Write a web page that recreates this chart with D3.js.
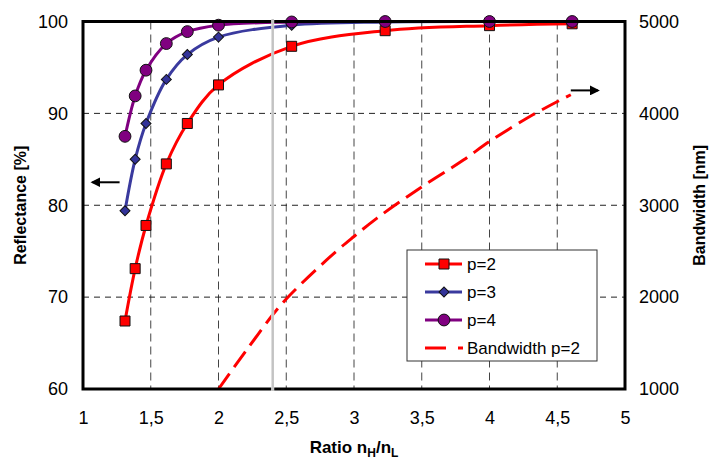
<!DOCTYPE html>
<html>
<head>
<meta charset="utf-8">
<script src="https://cdn.jsdelivr.net/npm/d3@7"></script>
<style>
  body { margin: 0; background: #fff; }
  text { font-family: "Liberation Sans", Arial, sans-serif; fill: #000; }
</style>
</head>
<body>
<script>
// ratio nH/nL where the reflectance was computed
const ratio = [1.31, 1.385, 1.465, 1.615, 1.77, 2.0, 2.54, 3.23, 4.0, 4.61];
const reflP2 = [67.4, 73.1, 77.8, 84.5, 88.9, 93.1, 97.3, 99.0, 99.55, 99.75];
const reflP3 = [79.4, 85.0, 88.9, 93.7, 96.4, 98.3, 99.6, 99.95, 100, 100];
const reflP4 = [87.5, 91.9, 94.7, 97.6, 98.9, 99.6, 99.95, 100, 100, 100];
// bandwidth for p=2 (right axis)
const bwRatio = [2.0, 2.2, 2.44, 2.6, 2.87, 3.0, 3.17, 3.48, 3.81, 4.0, 4.32, 4.6];
const bwP2 = [1000, 1410, 1880, 2130, 2500, 2660, 2860, 3180, 3495, 3694, 3985, 4203];
const xTicks = [1, 1.5, 2, 2.5, 3, 3.5, 4, 4.5, 5];
const yLeftTicks = [60, 70, 80, 90, 100];
const yRightTicks = [1000, 2000, 3000, 4000, 5000];
const marked = 2.4;

const W = 724, H = 460,
      pL = 83, pR = 625, pT = 21.5, pB = 389;

const x = d3.scaleLinear().domain([1, 5]).range([pL, pR]),
      yL = d3.scaleLinear().domain([60, 100]).range([pB, pT]),
      yR = d3.scaleLinear().domain([1000, 5000]).range([pB, pT]);

const comma = d3.formatLocale({decimal: ",", thousands: "", grouping: [3], currency: ["", ""]});

const svg = d3.select("body").append("svg")
    .attr("width", W).attr("height", H);

const defs = svg.append("defs");
defs.append("clipPath").attr("id", "plot")
  .append("rect").attr("x", pL).attr("y", pT)
  .attr("width", pR - pL).attr("height", pB - pT);

// grid
svg.append("g")
    .selectAll("line").data(xTicks.slice(1, -1)).join("line")
    .attr("x1", d => x(d)).attr("x2", d => x(d))
    .attr("y1", pT).attr("y2", pB)
    .attr("stroke", "#444").attr("stroke-width", 1).attr("stroke-dasharray", "8,5");
svg.append("g")
    .selectAll("line").data(yLeftTicks.slice(1, -1)).join("line")
    .attr("x1", pL).attr("x2", pR)
    .attr("y1", d => yL(d)).attr("y2", d => yL(d))
    .attr("stroke", "#222").attr("stroke-width", 1).attr("stroke-dasharray", "6,5");

// axes (labels only, frame drawn separately)
const gx = svg.append("g").attr("transform", `translate(0,${pB})`)
    .call(d3.axisBottom(x).tickValues(xTicks).tickSize(0).tickPadding(22)
      .tickFormat(comma.format("~g")));
const gl = svg.append("g").attr("transform", `translate(${pL},0)`)
    .call(d3.axisLeft(yL).tickValues(yLeftTicks).tickSize(0).tickPadding(15)
      .tickFormat(d3.format("d")));
const gr = svg.append("g").attr("transform", `translate(${pR},0)`)
    .call(d3.axisRight(yR).tickValues(yRightTicks).tickSize(0).tickPadding(14)
      .tickFormat(d3.format("d")));
[gx, gl, gr].forEach(g => {
  g.select(".domain").remove();
  g.selectAll("text").style("font-size", "18px").attr("fill", "#000");
});

// series
const line = (ys, scale, xs) => d3.line()
    .x((d, i) => x(xs[i])).y(d => scale(d))
    .curve(d3.curveCatmullRom.alpha(0.5))(ys);

const plot = svg.append("g").attr("clip-path", "url(#plot)");
plot.append("path").attr("d", line(bwP2, yR, bwRatio))
    .attr("fill", "none").attr("stroke", "#ff0000").attr("stroke-width", 3)
    .attr("stroke-dasharray", "19,8");

// diamond = square turned by 45 degrees
const series = [
  {name: "p=2", vals: reflP2, color: "#ff0000", fill: "#ff0000", sym: d3.symbolSquare, size: 100, rot: 0},
  {name: "p=3", vals: reflP3, color: "#3a3a9e", fill: "#333399", sym: d3.symbolSquare, size: 50, rot: 45},
  {name: "p=4", vals: reflP4, color: "#800080", fill: "#800080", sym: d3.symbolCircle, size: 110, rot: 0}
];

series.forEach(s => {
  svg.append("path").attr("d", line(s.vals, yL, ratio))
      .attr("fill", "none").attr("stroke", s.color).attr("stroke-width", 3);
});
series.forEach(s => {
  svg.append("g").selectAll("path").data(s.vals).join("path")
      .attr("transform", (d, i) => `translate(${x(ratio[i])},${yL(d)}) rotate(${s.rot})`)
      .attr("d", d3.symbol(s.sym, s.size))
      .attr("fill", s.fill).attr("stroke", "#111").attr("stroke-width", 1);
});

// frame
svg.append("rect").attr("x", pL).attr("y", pT)
    .attr("width", pR - pL).attr("height", pB - pT)
    .attr("fill", "none").attr("stroke", "#000").attr("stroke-width", 3);

// marked ratio
svg.append("line")
    .attr("x1", x(marked)).attr("x2", x(marked))
    .attr("y1", pT - 2).attr("y2", pB + 2)
    .attr("stroke", "#fff").attr("stroke-width", 3);
svg.append("line")
    .attr("x1", x(marked)).attr("x2", x(marked))
    .attr("y1", pT - 2).attr("y2", pB + 2)
    .attr("stroke", "#888").attr("stroke-width", 2.5).attr("stroke-dasharray", "1,1");

// arrows showing which axis belongs to which curves
defs.append("marker").attr("id", "head").attr("viewBox", "0 0 10 10")
    .attr("refX", 8).attr("refY", 5).attr("markerWidth", 10).attr("markerHeight", 10)
    .attr("markerUnits", "userSpaceOnUse").attr("orient", "auto")
  .append("path").attr("d", "M0,0L10,5L0,10Z").attr("fill", "#000");
svg.append("line").attr("x1", x(1.27)).attr("x2", x(1.07))
    .attr("y1", yL(82.5)).attr("y2", yL(82.5))
    .attr("stroke", "#000").attr("stroke-width", 2).attr("marker-end", "url(#head)");
svg.append("line").attr("x1", x(4.6)).attr("x2", x(4.8))
    .attr("y1", yR(4250)).attr("y2", yR(4250))
    .attr("stroke", "#000").attr("stroke-width", 2).attr("marker-end", "url(#head)");

// legend
const lg = svg.append("g").attr("transform", "translate(407,250)");
lg.append("rect").attr("width", 190).attr("height", 111)
    .attr("fill", "#fff").attr("stroke", "#333").attr("stroke-width", 1);
const rowY = i => 14 + i * 28;
series.forEach((s, i) => {
  lg.append("line").attr("x1", 18).attr("x2", 55).attr("y1", rowY(i)).attr("y2", rowY(i))
      .attr("stroke", s.color).attr("stroke-width", 3);
  lg.append("path").attr("transform", `translate(37,${rowY(i)}) rotate(${s.rot})`)
      .attr("d", d3.symbol(s.sym, s.size))
      .attr("fill", s.fill).attr("stroke", "#111").attr("stroke-width", 1);
  lg.append("text").attr("x", 60).attr("y", rowY(i)).attr("dy", "0.35em")
      .style("font-size", "17px").text(s.name);
});
lg.append("line").attr("x1", 18).attr("x2", 56).attr("y1", rowY(3)).attr("y2", rowY(3))
    .attr("stroke", "#ff0000").attr("stroke-width", 3).attr("stroke-dasharray", "21,12");
lg.append("text").attr("x", 60).attr("y", rowY(3)).attr("dy", "0.35em")
    .style("font-size", "17px").text("Bandwidth p=2");

// axis titles
const xt = svg.append("text").attr("x", (pL + pR) / 2).attr("y", 453)
    .attr("text-anchor", "middle").style("font-size", "17px").style("font-weight", "bold");
xt.append("tspan").text("Ratio n");
xt.append("tspan").attr("dy", 4).style("font-size", "12px").text("H");
xt.append("tspan").attr("dy", -4).text("/n");
xt.append("tspan").attr("dy", 4).style("font-size", "12px").text("L");

svg.append("text").attr("transform", `translate(26,${(pT + pB) / 2}) rotate(-90)`)
    .attr("text-anchor", "middle").style("font-size", "16px").style("font-weight", "bold")
    .text("Reflectance [%]");
svg.append("text").attr("transform", `translate(705,${(pT + pB) / 2}) rotate(-90)`)
    .attr("text-anchor", "middle").style("font-size", "16px").style("font-weight", "bold")
    .text("Bandwidth [nm]");
</script>
</body>
</html>
